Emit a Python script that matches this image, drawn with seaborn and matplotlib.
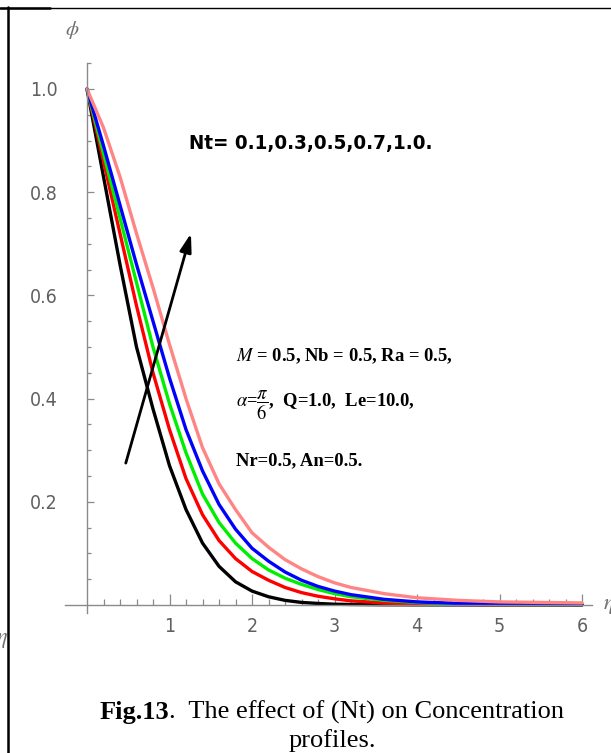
import os
import numpy as np
import pandas as pd
import matplotlib
matplotlib.use("Agg")
import matplotlib.pyplot as plt
from matplotlib import font_manager
from matplotlib.font_manager import FontProperties
from matplotlib.lines import Line2D
import seaborn as sns

# ---------------- data ----------------
eta = [0.0, 0.2, 0.4, 0.6, 0.8, 1.0, 1.2, 1.4, 1.6, 1.8, 2.0, 2.2, 2.4, 2.6,
       2.8, 3.0, 3.2, 3.6, 4.0, 4.5, 5.0, 6.0]
phi_nt01 = [1.0, 0.83, 0.66, 0.50, 0.38, 0.27, 0.185, 0.12, 0.075, 0.045, 0.027,
            0.016, 0.009, 0.005, 0.003, 0.0015, 0.001, 0.0005, 0.0003, 0.0002, 0.0001, 0.0]
phi_nt03 = [1.0, 0.86, 0.72, 0.58, 0.45, 0.34, 0.245, 0.175, 0.125, 0.09, 0.065,
            0.048, 0.034, 0.024, 0.017, 0.012, 0.008, 0.004, 0.002, 0.001, 0.0005, 0.0002]
phi_nt05 = [1.0, 0.875, 0.75, 0.625, 0.50, 0.39, 0.295, 0.215, 0.16, 0.12, 0.09,
            0.068, 0.052, 0.04, 0.03, 0.022, 0.016, 0.009, 0.005, 0.002, 0.001, 0.0005]
phi_nt07 = [1.0, 0.89, 0.775, 0.66, 0.55, 0.44, 0.34, 0.26, 0.195, 0.147, 0.11,
            0.085, 0.064, 0.048, 0.036, 0.027, 0.02, 0.011, 0.006, 0.003, 0.0015, 0.0008]
phi_nt10 = [1.0, 0.925, 0.83, 0.72, 0.615, 0.505, 0.40, 0.305, 0.235, 0.185, 0.14,
            0.112, 0.088, 0.07, 0.055, 0.043, 0.034, 0.022, 0.014, 0.009, 0.006, 0.004]
nt_labels = ["0.1", "0.3", "0.5", "0.7", "1.0"]
series = [phi_nt01, phi_nt03, phi_nt05, phi_nt07, phi_nt10]
colors = ["#000000", "#ff0000", "#00ee00", "#0000ff", "#ff8585"]

xticks = [1, 2, 3, 4, 5, 6]
xtick_labels = ["1", "2", "3", "4", "5", "6"]
yticks = [0.2, 0.4, 0.6, 0.8, 1.0]
ytick_labels = ["0.2", "0.4", "0.6", "0.8", "1.0"]

rows = []
for lab, vals in zip(nt_labels, series):
    for e, v in zip(eta, vals):
        rows.append({"eta": e, "phi": v, "Nt": lab})
df = pd.DataFrame(rows)

# ---------------- style ----------------
sns.set_style("white")
plt.rcParams["font.family"] = ["Liberation Serif", "DejaVu Sans"]
plt.rcParams["mathtext.fontset"] = "stix"


def find_narrow(bold):
    prefs = ["liberationsansnarrow", "dejavusanscondensed", "robotocondensed",
             "opensans_condensed", "opensanscondensed", "notosanscondensed"]
    found = {}
    for f in font_manager.fontManager.ttflist:
        fn = os.path.basename(f.fname).lower().replace("-", "").replace(" ", "")
        if "italic" in fn or "oblique" in fn:
            continue
        if ("bold" in fn) != bold:
            continue
        if "semibold" in fn or "extrabold" in fn:
            continue
        for p in prefs:
            if fn.startswith(p):
                found.setdefault(p, f.fname)
    for p in prefs:
        if p in found:
            return FontProperties(fname=found[p])
    return FontProperties(family="Liberation Sans", weight="bold" if bold else "normal")


narrow_reg = find_narrow(False)
narrow_bold = find_narrow(True)

W, H = 611, 753
fig = plt.figure(figsize=(W / 100, H / 100), dpi=100)


def fx(x):
    return x / W


def fy(y):
    return 1 - y / H


# axes mapping: eta 0 -> px 87, 1 unit = 82.5 px ; phi 0 -> px 605, 1 unit = 516 px
x0px, xs = 87.0, 82.5
y0px, ys = 605.0, 516.0
xlim = (-0.3, 6.3)
ylim = (-0.07, 1.12)
left = x0px + xlim[0] * xs
right = x0px + xlim[1] * xs
bottom = y0px - ylim[0] * ys
top = y0px - ylim[1] * ys
ax = fig.add_axes([fx(left), fy(bottom), (right - left) / W, (bottom - top) / H])
ax.set_xlim(*xlim)
ax.set_ylim(*ylim)
ax.patch.set_alpha(0)

sns.lineplot(data=df, x="eta", y="phi", hue="Nt", palette=colors, linewidth=2.4,
             legend=False, ax=ax, sort=False, estimator=None)

# spines at origin, Mathematica style
for s in ["top", "right"]:
    ax.spines[s].set_visible(False)
axis_col = "#8a8a8a"
ax.spines["left"].set_position(("data", 0))
ax.spines["bottom"].set_position(("data", 0))
ax.spines["left"].set_bounds(-0.015, 1.05)
ax.spines["bottom"].set_bounds(-0.27, 6.12)
for s in ["left", "bottom"]:
    ax.spines[s].set_color(axis_col)
    ax.spines[s].set_linewidth(1.0)

ax.set_xticks(xticks)
ax.set_xticklabels(xtick_labels)
ax.set_yticks(yticks)
ax.set_yticklabels(ytick_labels)
ax.set_xticks([round(0.2 * i, 2) for i in range(1, 31)], minor=True)
ax.set_yticks([round(0.05 * i, 2) for i in range(1, 22)], minor=True)
ax.tick_params(axis="both", which="both", direction="in", color=axis_col, width=0.9,
               bottom=True, left=True)
ax.tick_params(axis="x", which="major", length=8, pad=9)
ax.tick_params(axis="x", which="minor", length=4.5)
ax.tick_params(axis="y", which="major", length=5, pad=21)
ax.tick_params(axis="y", which="minor", length=3)
for lab in ax.get_xticklabels() + ax.get_yticklabels():
    lab.set_fontproperties(narrow_reg)
    lab.set_fontsize(14)
    lab.set_color("#606060")
ax.set_xlabel("")
ax.set_ylabel("")

# axis symbols
fig.text(fx(72), fy(30), r"$\phi$", color="#707070", fontsize=15, ha="center", va="center")
fig.text(fx(603), fy(607), r"$\eta$", color="#707070", fontsize=16, ha="left", va="center")
fig.text(fx(-4), fy(640), r"$\eta$", color="#707070", fontsize=16, ha="left", va="center")

# arrow
ax.annotate("", xy=(1.26, 0.72), xytext=(0.47, 0.275),
            arrowprops=dict(arrowstyle="-|>,head_length=1.1,head_width=0.35",
                            color="black", lw=2.0, shrinkA=0, shrinkB=0))

renderer = fig.canvas.get_renderer()


def fit_width(t, target, max_size=None):
    w = t.get_window_extent(renderer).width
    s = t.get_fontsize() * target / w
    if max_size is not None:
        s = min(s, max_size)
    t.set_fontsize(s)
    return t


# annotations
t_nt = fig.text(fx(189), fy(143), "Nt= 0.1,0.3,0.5,0.7,1.0.", fontproperties=narrow_bold,
                fontsize=19, ha="left", va="center", color="black")
fit_width(t_nt, 242, max_size=21)

p1 = fig.text(fx(236), fy(356), r"$\mathit{M}$ = 0.5, Nb = 0.5, Ra = 0.5,", weight="bold",
              fontsize=14, ha="left", va="center", color="black")
fit_width(p1, 218)
psize = p1.get_fontsize()
fig.text(fx(236), fy(405), r"$\alpha$=$\dfrac{\pi}{6}$,  Q=1.0,  Le=10.0,", weight="bold",
         fontsize=psize, ha="left", va="center", color="black")
fig.text(fx(236), fy(461), "Nr=0.5, An=0.5.", weight="bold",
         fontsize=psize, ha="left", va="center", color="black")

# caption (bold figure number + regular text), centred at x = 332
cap_size = 19
cb = fig.text(0, fy(712), "Fig.13", weight="bold", fontsize=cap_size, ha="left",
              va="center", color="black")
cr = fig.text(0, fy(712), ".  The effect of (Nt) on Concentration", fontsize=cap_size,
              ha="left", va="center", color="black")
wb = cb.get_window_extent(renderer).width
wr = cr.get_window_extent(renderer).width
start = 332 - (wb + wr) / 2
cb.set_x(fx(start))
cr.set_x(fx(start + wb))
fig.text(fx(332), fy(741), "profiles.", fontsize=cap_size, ha="center", va="center",
         color="black")

# page frame lines
fig.add_artist(Line2D([0, 1], [fy(8), fy(8)], transform=fig.transFigure, color="black", lw=1.0))
fig.add_artist(Line2D([0, fx(50)], [fy(7.5), fy(7.5)], transform=fig.transFigure, color="black", lw=1.8))
fig.add_artist(Line2D([fx(8), fx(8)], [fy(7), 0], transform=fig.transFigure, color="black", lw=1.8))

fig.savefig("out.png", dpi=100)
